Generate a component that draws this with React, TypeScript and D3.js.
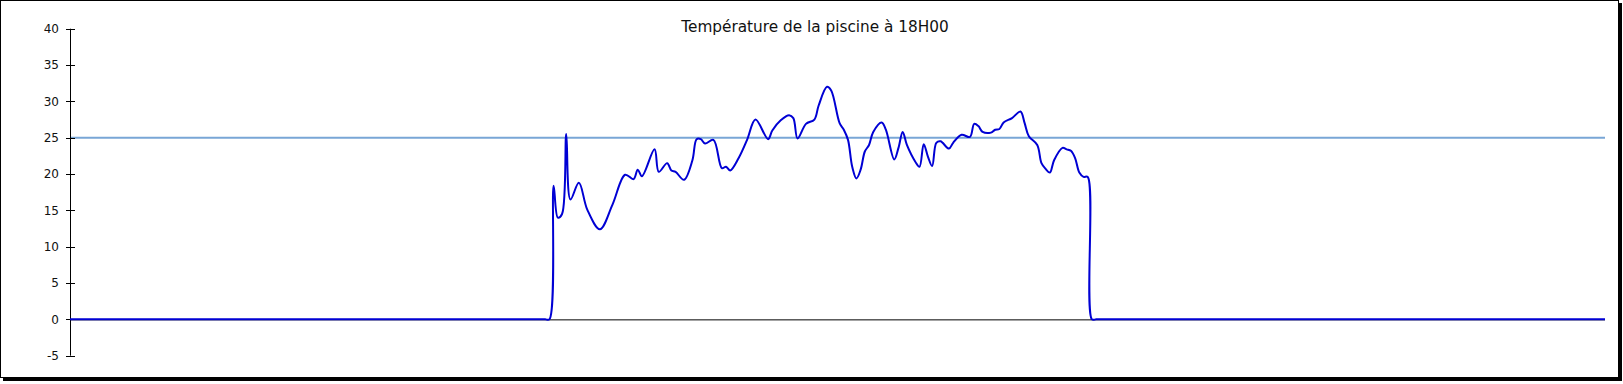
import React from "react";
import * as d3 from "d3";

const title = "Température de la piscine à 18H00";
const yTicks = [-5, 0, 5, 10, 15, 20, 25, 30, 35, 40];
const threshold = 25;
const dayCount = 365;

const days = [
  0, 112, 113, 114, 115, 116, 117, 118, 119, 121, 123, 126, 129, 132, 134, 135, 136, 139, 140, 142,
  143, 144, 146, 148, 149, 150, 151, 153, 155, 156, 157, 159, 161, 163, 166, 167, 169, 171, 172, 173,
  175, 177, 178, 180, 181, 183, 184, 185, 186, 187, 188, 189, 190, 191, 193, 194, 196, 197, 198, 199,
  201, 202, 203, 204, 205, 206, 207, 209, 210, 212, 214, 215, 216, 217, 219, 220, 221, 222, 224, 226,
  227, 228, 230, 231, 232, 233, 234, 236, 237, 238, 239, 240, 241, 242, 243, 244, 245, 365,
];

const temps = [
  0, 0, 0, 0, 18.4, 14.0, 14.5, 25.5, 16.5, 18.8, 15.1, 12.4, 15.8, 19.9, 19.3, 20.6, 19.7, 23.4, 20.3, 21.5,
  20.5, 20.3, 19.2, 21.9, 24.8, 24.8, 24.2, 24.7, 20.8, 21.0, 20.5, 22.2, 24.7, 27.5, 24.8, 26.0, 27.4, 28.1, 27.7, 24.9,
  26.9, 27.5, 29.4, 32.0, 31.5, 27.0, 26.1, 24.7, 21.0, 19.4, 20.6, 23.1, 24.0, 25.8, 27.1, 26.1, 22.0, 23.6, 25.8, 24.0,
  21.7, 21.0, 24.1, 22.4, 21.1, 24.3, 24.5, 23.5, 24.3, 25.4, 25.1, 26.9, 26.6, 25.8, 25.7, 26.1, 26.2, 27.1, 27.7, 28.6,
  27.0, 25.2, 24.0, 21.5, 20.7, 20.2, 21.9, 23.6, 23.4, 23.2, 22.2, 20.2, 19.6, 19.6, 0, 0, 0, 0,
];

const W = 1623;
const H = 384;
const font = "'DejaVu Sans', Verdana, sans-serif";

export default function App() {
  const x = d3.scaleLinear().domain([0, dayCount]).range([70, 1605]);
  const y = d3.scaleLinear().domain([-5, 40]).range([355.7, 28.7]);
  const pts: [number, number][] = days.map((d, i) => [d, temps[i]]);
  const line = d3
    .line<[number, number]>()
    .x((p) => x(p[0]))
    .y((p) => y(p[1]))
    .curve(d3.curveCatmullRom.alpha(0.5));
  const [x0, x1] = x.range();

  return (
    <svg
      width={W}
      height={H}
      style={{ position: "absolute", left: 0, top: 0, background: "#fff" }}
    >
      <rect x={3} y={3} width={1619} height={378} fill="#000" />
      <rect x={0.5} y={0.5} width={1618} height={377} fill="#fff" stroke="#000" strokeWidth={1} />
      <text
        x={815}
        y={32}
        textAnchor="middle"
        fontFamily={font}
        fontSize={15.3}
        fill="#111"
      >
        {title}
      </text>
      <line x1={x0} x2={x1} y1={y(threshold)} y2={y(threshold)} stroke="#79a6d6" strokeWidth={2} />
      <line x1={x0} x2={x1} y1={y(0) + 0.5} y2={y(0) + 0.5} stroke="#000" strokeWidth={1} />
      <line x1={70.5} x2={70.5} y1={y(40)} y2={y(-5)} stroke="#000" strokeWidth={1} />
      {yTicks.map((t) => (
        <g key={t}>
          <line x1={66} x2={75} y1={Math.round(y(t)) + 0.5} y2={Math.round(y(t)) + 0.5} stroke="#000" strokeWidth={1} />
          <text
            x={59}
            y={y(t)}
            dy="0.36em"
            textAnchor="end"
            fontFamily={font}
            fontSize={12}
            fill="#111"
          >
            {t}
          </text>
        </g>
      ))}
      <path d={line(pts) || ""} fill="none" stroke="#0000d4" strokeWidth={2} />
    </svg>
  );
}
